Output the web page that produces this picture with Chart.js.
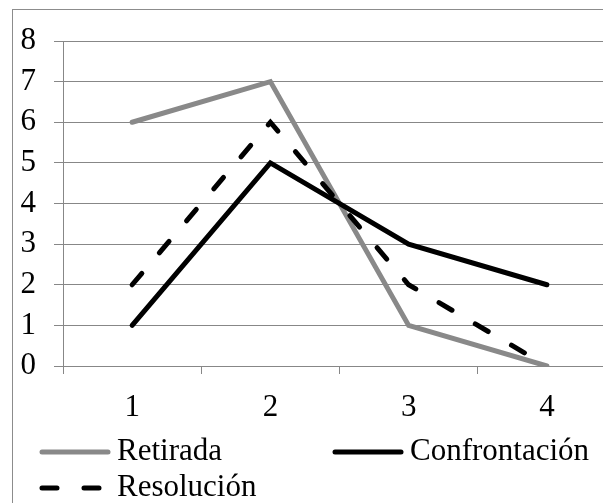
<!DOCTYPE html>
<html>
<head>
<meta charset="utf-8">
<script src="https://cdn.jsdelivr.net/npm/chart.js@4/dist/chart.umd.min.js"></script>
<style>
  html, body { margin: 0; padding: 0; background: #fff; overflow: hidden; }
  #wrap { position: absolute; left: 0; top: 0; width: 640px; height: 520px; }
</style>
</head>
<body>
<div id="wrap"><canvas id="chart" width="640" height="520"></canvas></div>
<script>
// Datos del gráfico
const categorias = ['1', '2', '3', '4'];
const retirada = [6, 7, 1, 0];
const confrontacion = [1, 5, 3, 2];
const resolucion = [2, 6, 2, 0];

const FUENTE = '"Liberation Serif", "Times New Roman", serif';
const TAM = 31;
const GRIS = '#898989';
const LINEA_EJE = '#878787';

// Borde exterior del gráfico (estilo Excel)
const bordePlugin = {
    id: 'borde',
    beforeDraw(chart) {
        const ctx = chart.ctx;
        ctx.save();
        ctx.fillStyle = '#fff';
        ctx.fillRect(0, 0, chart.width, chart.height);
        ctx.strokeStyle = '#8c8c8c';
        ctx.lineWidth = 1;
        ctx.strokeRect(12.5, 9.5, 700, 600);
        ctx.restore();
    }
};

// Leyenda en dos columnas
const leyendaPlugin = {
    id: 'leyenda',
    afterDraw(chart) {
        const ctx = chart.ctx;
        const pos = [
            { x: 40, y: 452 },
            { x: 333, y: 452 },
            { x: 40, y: 488 }
        ];
        ctx.save();
        chart.data.datasets.forEach((ds, i) => {
            const p = pos[i];
            ctx.beginPath();
            ctx.strokeStyle = ds.borderColor;
            ctx.lineWidth = ds.borderWidth;
            ctx.lineCap = 'round';
            ctx.setLineDash(ds.borderDash || []);
            ctx.moveTo(p.x + 2, p.y);
            ctx.lineTo(p.x + 68, p.y);
            ctx.stroke();
            ctx.setLineDash([]);
            ctx.fillStyle = '#000';
            ctx.font = TAM + 'px ' + FUENTE;
            ctx.textBaseline = 'middle';
            ctx.textAlign = 'left';
            ctx.fillText(ds.label, p.x + 77, p.y);
        });
        ctx.restore();
    }
};

new Chart(document.getElementById('chart'), {
    type: 'line',
    data: {
        labels: categorias,
        datasets: [
            {
                label: 'Retirada',
                data: retirada,
                borderColor: GRIS,
                borderWidth: 5,
                order: 3
            },
            {
                label: 'Confrontación',
                data: confrontacion,
                borderColor: '#000',
                borderWidth: 5,
                order: 2
            },
            {
                label: 'Resolución',
                data: resolucion,
                borderColor: '#000',
                borderWidth: 5,
                borderDash: [15, 27],
                order: 1
            }
        ]
    },
    options: {
        responsive: false,
        animation: false,
        layout: { padding: { top: 41, right: 24, left: 0, bottom: 0 } },
        elements: {
            point: { radius: 0 },
            line: { tension: 0, borderCapStyle: 'round', borderJoinStyle: 'miter', fill: false }
        },
        plugins: {
            legend: { display: false },
            tooltip: { enabled: false }
        },
        scales: {
            x: {
                offset: true,
                grid: {
                    display: true,
                    offset: true,
                    drawOnChartArea: false,
                    drawTicks: true,
                    tickLength: 8,
                    color: LINEA_EJE
                },
                border: { display: true, color: LINEA_EJE, width: 1 },
                ticks: {
                    color: '#000',
                    padding: 15,
                    font: { family: FUENTE, size: TAM }
                },
                afterFit(scale) { scale.height = 520 - 366; }
            },
            y: {
                min: 0,
                max: 8,
                ticks: {
                    stepSize: 1,
                    color: '#000',
                    padding: 18,
                    font: { family: FUENTE, size: TAM }
                },
                grid: {
                    color: LINEA_EJE,
                    tickLength: 9
                },
                border: { display: true, color: LINEA_EJE, width: 1 },
                afterFit(scale) { scale.width = 63; }
            }
        }
    },
    plugins: [bordePlugin, leyendaPlugin]
});
</script>
</body>
</html>
